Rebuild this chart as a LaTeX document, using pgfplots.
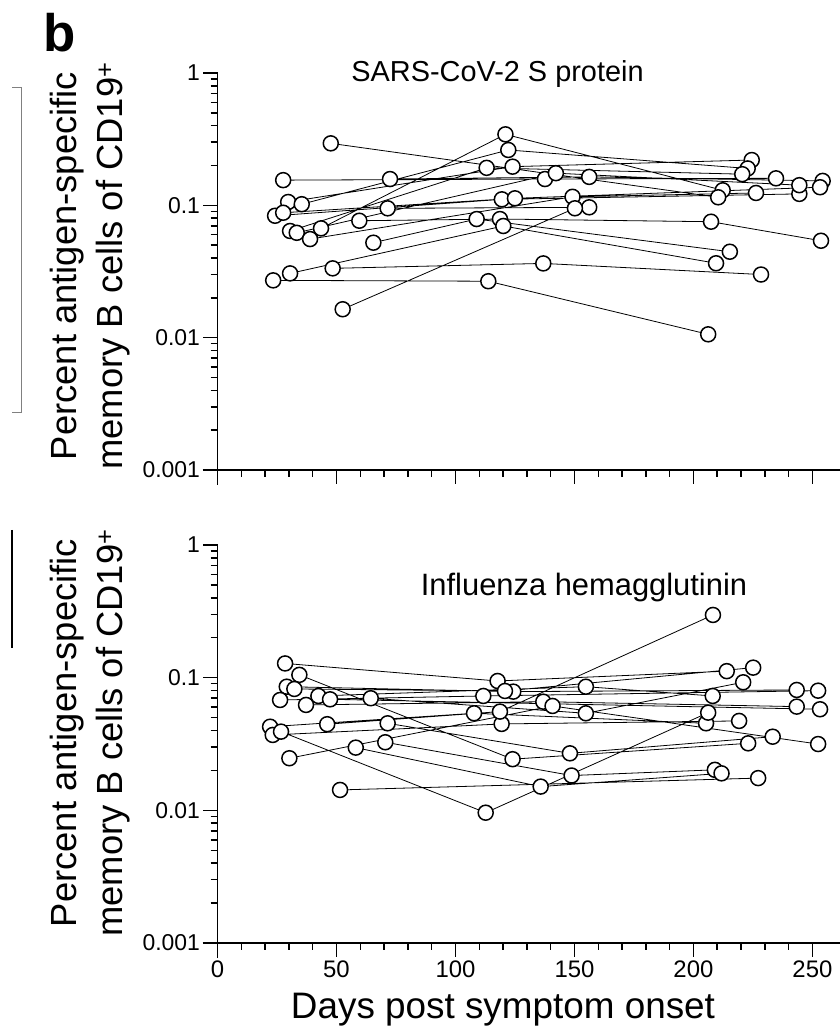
\documentclass[border=0pt]{standalone}
\usepackage{fontspec}
\setmainfont{Liberation Sans}
\usepackage{pgfplots}
\usepackage{pgfplotstable}
\pgfplotsset{compat=1.18}

% one row per sample, donors separated by nan rows
\pgfplotstableread{
day val
43.5 0.067
121 0.344
212.3 0.13
nan nan
47.6 0.294
210.4 0.115
nan nan
27.6 0.155
137.6 0.158
234.7 0.16
nan nan
72.5 0.158
156.2 0.164
254.3 0.153
nan nan
29.7 0.106
124 0.196
224.5 0.22
nan nan
35.4 0.102
122.2 0.262
222.8 0.19
nan nan
24.2 0.0834
119.5 0.111
244.5 0.122
nan nan
27.6 0.0879
125 0.113
253.2 0.137
nan nan
30.5 0.064
113.1 0.192
220.5 0.172
nan nan
33.3 0.062
142.2 0.175
244.5 0.142
nan nan
38.9 0.0556
149.2 0.116
226.3 0.124
nan nan
59.6 0.0765
118.7 0.0788
207.4 0.0752
253.6 0.054
nan nan
71.5 0.0949
156.2 0.0966
nan nan
65.5 0.0522
108.9 0.0788
215.3 0.0446
nan nan
23.4 0.0271
113.8 0.0267
206.2 0.0106
nan nan
30.5 0.0306
120.1 0.0698
209.5 0.0365
nan nan
48.4 0.0334
136.9 0.0364
228.4 0.030
nan nan
52.6 0.0164
150.2 0.095
}\sars

\pgfplotstableread{
day val
28.4 0.128
117.7 0.0944
214 0.112
nan nan
34.4 0.105
124 0.0243
223 0.032
nan nan
29.1 0.0855
124.3 0.0785
243.4 0.0808
nan nan
32.3 0.0822
120.8 0.0794
225.1 0.119
nan nan
26.3 0.0679
111.7 0.0728
252.4 0.0798
nan nan
37.2 0.0623
136.9 0.0659
243.4 0.0605
nan nan
42.4 0.0728
154.8 0.0855
208.1 0.0728
nan nan
47.3 0.0687
253.2 0.0578
nan nan
64.4 0.07
154.8 0.0539
220.9 0.0923
nan nan
22.1 0.0427
107.8 0.0539
205.3 0.0453
nan nan
23.2 0.037
119.4 0.0448
219.2 0.0472
nan nan
26.7 0.0392
112.7 0.0096
206.2 0.0545
nan nan
46.1 0.0446
118.7 0.0555
208.2 0.297
nan nan
71.5 0.0453
148.1 0.0269
233.3 0.0359
nan nan
70.5 0.0326
148.8 0.0183
209 0.0202
nan nan
58.1 0.0297
135.8 0.0151
211.8 0.019
nan nan
30.2 0.0247
140.8 0.0612
252.4 0.0316
nan nan
51.5 0.01425
227.2 0.0175
}\flu

\pgfplotsset{
  panel/.style={
    scale only axis, width=623bp,
    xmin=0, xmax=261.8,
    ymin=0.001, ymax=1,
    axis x line*=bottom, axis y line*=left,
    axis line style={black, line width=1.5bp, shorten <=-15bp},
    tick align=outside,
    major tick length=14bp, minor tick length=7bp,
    tick style={black, line width=1.5bp},
    xtick={0,50,100,150,200,250}, minor x tick num=4,
    ytick={0.001,0.01,0.1,1}, yticklabels={0.001,0.01,0.1,1},
    minor ytick={0.002,0.003,0.004,0.005,0.006,0.007,0.008,0.009,
                 0.02,0.03,0.04,0.05,0.06,0.07,0.08,0.09,
                 0.2,0.3,0.4,0.5,0.6,0.7,0.8,0.9},
    /pgf/number format/assume math mode=true,
    yticklabel style={font=\fontsize{23}{23}\selectfont},
    xticklabel style={font=\fontsize{24}{24}\selectfont},
    clip=false, unbounded coords=jump,
  },
  links/.style={black, line width=0.8bp, no markers},
  dots/.style={only marks, mark=*, mark size=7.5bp,
    mark options={fill=white, draw=black, line width=1.5bp}},
}

\begin{document}
\begin{tikzpicture}
\useasboundingbox (0,0) rectangle (840bp,1036bp);

% fragments of the neighbouring panel
\draw[gray, line width=1bp] (12bp,948bp) -- (21bp,948bp) -- (21bp,623bp) -- (12bp,623bp);
\draw[black, line width=1.8bp] (12bp,506bp) -- (12bp,388bp);

\node[font=\fontsize{53}{53}\selectfont\bfseries] at (60bp,1003bp) {b};

% SARS-CoV-2 S protein
\begin{axis}[ymode=log, panel, height=397bp, at={(217.5bp,566bp)}, anchor=south west, xticklabels={}]
\addplot[links] table[x=day, y=val] {\sars};
\addplot[dots] table[x=day, y=val] {\sars};
\end{axis}

% Influenza hemagglutinin
\begin{axis}[ymode=log, panel, height=398bp, at={(217.5bp,93bp)}, anchor=south west]
\addplot[links] table[x=day, y=val] {\flu};
\addplot[dots] table[x=day, y=val] {\flu};
\end{axis}

\node[font=\fontsize{29}{30}\selectfont] at (497.5bp,962bp) {SARS-CoV-2 S protein};
\node[font=\fontsize{31}{32}\selectfont] at (584bp,448bp) {Influenza hemagglutinin};
\node[rotate=90, align=center, font=\fontsize{36.5}{46}\selectfont] at (90bp,770bp)
  {Percent antigen-specific\\memory B cells of CD19\textsuperscript{+}};
\node[rotate=90, align=center, font=\fontsize{36.5}{46}\selectfont] at (90bp,303bp)
  {Percent antigen-specific\\memory B cells of CD19\textsuperscript{+}};
\node[font=\fontsize{37}{40}\selectfont] at (503bp,26bp) {Days post symptom onset};
\end{tikzpicture}
\end{document}
